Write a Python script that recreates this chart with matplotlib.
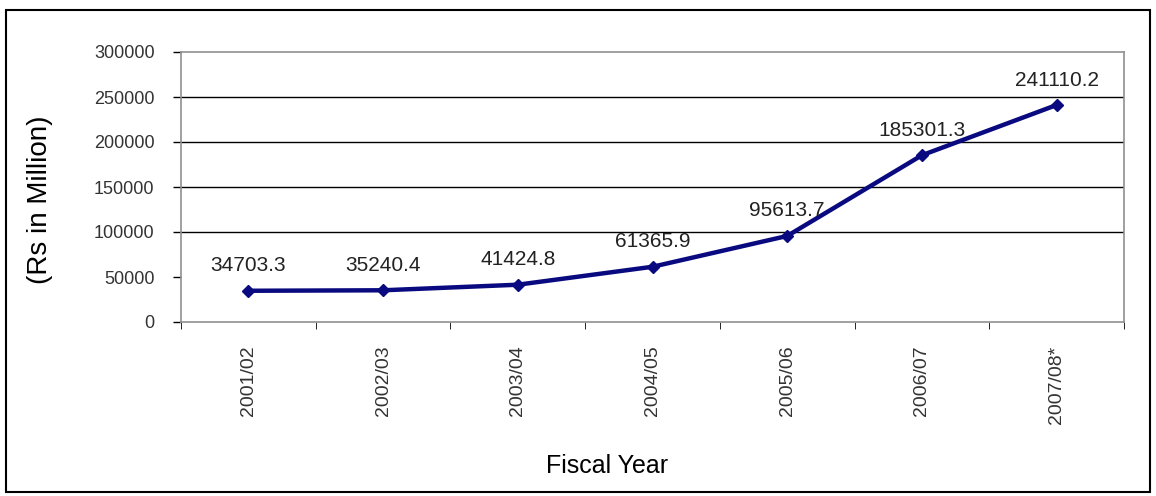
import numpy as np
import matplotlib.pyplot as plt
from matplotlib.patches import Rectangle

# Fiscal years and values (Rs in Million)
years = ['2001/02', '2002/03', '2003/04', '2004/05', '2005/06', '2006/07', '2007/08*']
values = [34703.3, 35240.4, 41424.8, 61365.9, 95613.7, 185301.3, 241110.2]
y_ticks = [0, 50000, 100000, 150000, 200000, 250000, 300000]
grid_levels = [100000, 150000, 200000, 250000]

plt.rcParams['font.family'] = ['Liberation Sans', 'DejaVu Sans']

fig = plt.figure(figsize=(11.56, 4.96), dpi=100)
ax = fig.add_axes([181 / 1156, 1 - 322 / 496, 943 / 1156, 270 / 496])

x = np.arange(len(years))
for g in grid_levels:
    ax.axhline(g, color='black', linewidth=1.0, zorder=1)

ax.plot(x, values, color='#0a0a80', linewidth=3.2, marker='D', markersize=6,
        zorder=3)

for xi, v in zip(x, values):
    ax.annotate(f'{v:.1f}', (xi, v), xytext=(0, 18), textcoords='offset points',
                ha='center', va='center', fontsize=15, color='#222222')

ax.set_xlim(-0.5, len(years) - 0.5)
ax.set_ylim(0, 300000)
ax.set_yticks(y_ticks)
ax.set_yticklabels([str(t) for t in y_ticks], fontsize=13, color='#333333')
ax.tick_params(axis='y', length=6, width=1, color='black', pad=13)

ax.set_xticks(x)
ax.set_xticklabels(years, rotation=90, fontsize=14, color='#333333')
ax.tick_params(axis='x', length=0, pad=17)
ax.set_xticks(np.arange(len(years) + 1) - 0.5, minor=True)
ax.tick_params(axis='x', which='minor', length=5, color='black')

for s in ax.spines.values():
    s.set_color('#909090')
    s.set_linewidth(1.2)

ax.set_xlabel('Fiscal Year', fontsize=18)
ax.xaxis.set_label_coords(0.452, -0.49)
ax.set_ylabel('(Rs in Million)', fontsize=20)
ax.yaxis.set_label_coords(-0.136, 0.452)

# outer border around the whole chart
fig.patches.append(Rectangle((6 / 1156, 4 / 496), 1144 / 1156, 482 / 496,
                             transform=fig.transFigure, fill=False,
                             edgecolor='black', linewidth=1.5))

fig.savefig('out.png', dpi=100)
